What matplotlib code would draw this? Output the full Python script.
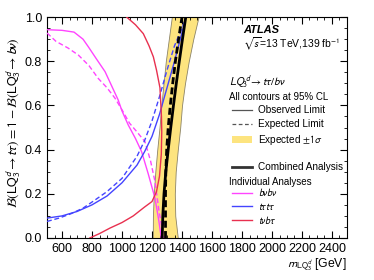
import matplotlib
matplotlib.use("Agg")
import matplotlib.pyplot as plt
from matplotlib.lines import Line2D
from matplotlib.patches import Patch
from matplotlib.ticker import MultipleLocator

plt.rcParams['font.family'] = ['Liberation Sans', 'DejaVu Sans']
plt.rcParams['mathtext.fontset'] = 'stixsans'

# ---- data ----
band_y = [0.0, 0.1, 0.2, 0.3, 0.4, 0.5, 0.6, 0.7, 0.8, 0.9, 1.0]
band_left = [1205, 1206, 1212, 1222, 1235, 1250, 1262, 1277, 1292, 1312, 1332]
band_right = [1372, 1355, 1352, 1358, 1372, 1388, 1400, 1420, 1445, 1475, 1510]

comb_y = [0.0, 0.1, 0.2, 0.3, 0.4, 0.5, 0.6, 0.7, 0.8, 0.9, 1.0]
comb_obs_x = [1268, 1272, 1280, 1292, 1308, 1325, 1343, 1362, 1382, 1403, 1425]
comb_exp_x = [1290, 1290, 1290, 1292, 1298, 1308, 1322, 1338, 1356, 1377, 1400]

bvbv_obs_x = [500, 600, 680, 740, 775, 830, 887, 930, 975, 1000, 1042, 1090, 1131, 1175, 1220, 1245, 1262]
bvbv_obs_y = [0.943, 0.94, 0.932, 0.90, 0.866, 0.81, 0.753, 0.69, 0.624, 0.575, 0.511, 0.45, 0.39, 0.29, 0.18, 0.08, 0.0]
bvbv_exp_x = [500, 560, 640, 709, 780, 842, 900, 953, 1000, 1050, 1100, 1153, 1190, 1220, 1245, 1265, 1275]
bvbv_exp_y = [0.928, 0.89, 0.86, 0.828, 0.78, 0.722, 0.68, 0.633, 0.58, 0.52, 0.48, 0.436, 0.35, 0.255, 0.13, 0.05, 0.0]

tttt_obs_x = [500, 600, 700, 800, 900, 1000, 1100, 1150, 1200, 1250, 1300, 1350, 1400, 1425]
tttt_obs_y = [0.09, 0.10, 0.12, 0.15, 0.19, 0.25, 0.33, 0.39, 0.46, 0.56, 0.68, 0.80, 0.93, 1.0]
tttt_exp_x = [500, 580, 660, 740, 820, 900, 1000, 1100, 1150, 1200, 1250, 1300, 1350, 1400, 1430]
tttt_exp_y = [0.075, 0.09, 0.11, 0.135, 0.172, 0.21, 0.27, 0.37, 0.44, 0.53, 0.64, 0.76, 0.87, 0.95, 1.0]

tvbt_obs_x = [785, 850, 920, 1000, 1075, 1150, 1200, 1230, 1250, 1262, 1265, 1263, 1253, 1230, 1209, 1180, 1142, 1090, 1031]
tvbt_obs_y = [0.0, 0.02, 0.045, 0.07, 0.10, 0.14, 0.165, 0.21, 0.28, 0.38, 0.48, 0.55, 0.68, 0.76, 0.82, 0.87, 0.925, 0.965, 1.0]

xticks = [600, 800, 1000, 1200, 1400, 1600, 1800, 2000, 2200, 2400]

c_pink = '#ff44ff'
c_blue = '#4444ff'
c_red = '#e8304f'
c_band = '#fde47f'

fig = plt.figure(figsize=(3.74, 2.80), dpi=100)
ax = fig.add_axes([0.1257, 0.15, 0.8021, 0.789])

ax.fill_betweenx(band_y, band_left, band_right, facecolor=c_band,
                 edgecolor='#8c8468', linewidth=0.6, zorder=1)

ax.plot(bvbv_obs_x, bvbv_obs_y, color=c_pink, lw=1.0, zorder=3)
ax.plot(bvbv_exp_x, bvbv_exp_y, color=c_pink, lw=1.0, ls=(0, (3.5, 2)), zorder=3)
ax.plot(tttt_obs_x, tttt_obs_y, color=c_blue, lw=1.0, zorder=3)
ax.plot(tttt_exp_x, tttt_exp_y, color=c_blue, lw=1.0, ls=(0, (3.5, 2)), zorder=3)
ax.plot(tvbt_obs_x, tvbt_obs_y, color=c_red, lw=1.0, zorder=3)

ax.plot(comb_exp_x, comb_y, color='black', lw=2.0, ls=(0, (2.5, 1.2)), zorder=4)
ax.plot(comb_obs_x, comb_y, color='black', lw=2.0, zorder=4)

ax.set_xlim(500, 2500)
ax.set_ylim(0, 1)
ax.set_xticks(xticks)
ax.xaxis.set_minor_locator(MultipleLocator(50))
ax.yaxis.set_major_locator(MultipleLocator(0.2))
ax.yaxis.set_minor_locator(MultipleLocator(0.05))
ax.tick_params(which='both', direction='in', top=True, right=True, labelsize=9)
ax.tick_params(which='major', length=5)
ax.tick_params(which='minor', length=2.5)
for s in ax.spines.values():
    s.set_linewidth(0.8)

ax.set_ylabel(r'$\mathcal{B}(\mathrm{LQ}_3^d \rightarrow t\tau) = 1 - \mathcal{B}(\mathrm{LQ}_3^d \rightarrow b\nu)$',
              fontsize=9.6)
ax.yaxis.set_label_coords(-0.08, 0.52)
ax.set_xlabel(r'$m_{\mathrm{LQ}_3^d}$ [GeV]', fontsize=8.8, loc='right', labelpad=1)

# texts
ax.text(0.653, 0.941, 'ATLAS', transform=ax.transAxes, fontsize=8,
        fontweight='bold', fontstyle='italic', va='center', ha='left')
ax.text(0.653, 0.882, r'$\sqrt{s}$=13 TeV,139 fb$^{-1}$', transform=ax.transAxes,
        fontsize=7.5, va='center', ha='left')
ax.text(0.607, 0.706, r'$LQ_3^d \rightarrow t\tau/b\nu$', transform=ax.transAxes,
        fontsize=7.8, va='center', ha='left')
ax.text(0.607, 0.639, 'All contours at 95% CL', transform=ax.transAxes,
        fontsize=7.0, va='center', ha='left')
ax.text(0.607, 0.255, 'Individual Analyses', transform=ax.transAxes,
        fontsize=7.0, va='center', ha='left')

h1 = [Line2D([], [], color='#555555', lw=0.9),
      Line2D([], [], color='#555555', lw=0.9, ls=(0, (3, 2))),
      Patch(facecolor=c_band, edgecolor='none')]
l1 = ['Observed Limit', 'Expected Limit', r'Expected $\pm1\sigma$']
leg1 = ax.legend(h1, l1, loc='upper left', bbox_to_anchor=(0.616, 0.602),
                 frameon=False, fontsize=7.2, handlelength=2.0, handletextpad=0.63,
                 labelspacing=0.4, borderpad=0, borderaxespad=0)
ax.add_artist(leg1)

h2 = [Line2D([], [], color='#333333', lw=2.0),
      Line2D([], [], color='none'),
      Line2D([], [], color=c_pink, lw=1.0),
      Line2D([], [], color=c_blue, lw=1.0),
      Line2D([], [], color=c_red, lw=1.0)]
l2 = ['Combined Analysis', ' ', r'$b\nu b\nu$', r'$t\tau t\tau$', r'$t\nu b\tau$']
ax.legend(h2, l2, loc='upper left', bbox_to_anchor=(0.616, 0.344),
          frameon=False, fontsize=7.2, handlelength=2.0, handletextpad=0.63,
          labelspacing=0.22, borderpad=0, borderaxespad=0)

fig.savefig('out.png', dpi=100)
